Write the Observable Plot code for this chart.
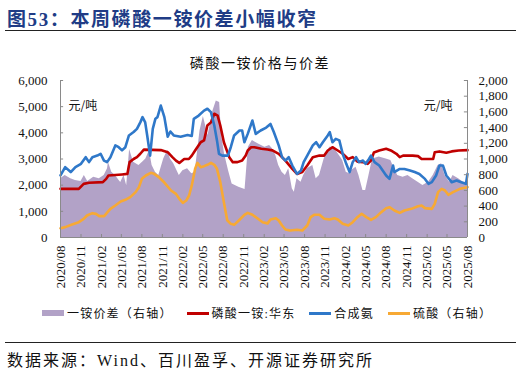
<!DOCTYPE html>
<html>
<head>
<meta charset="utf-8">
<script src="https://cdn.jsdelivr.net/npm/d3@7"></script>
<script src="https://cdn.jsdelivr.net/npm/@observablehq/plot@0.6"></script>
<style>
  body { margin: 0; background: #fff; }
  #wrap { position: relative; width: 521px; height: 374px; overflow: hidden; background: #fff; }
  .cjk { font-family: "Liberation Serif", "Noto Sans CJK SC", serif; }
  #title { position: absolute; left: 7px; top: 4px; font-size: 19px; font-weight: bold; color: #203C86; letter-spacing: 1.6px; white-space: nowrap; }
  .rule { position: absolute; left: 5px; width: 511px; height: 1.3px; background: #222; }
  #sub { position: absolute; left: 0; width: 520px; top: 52px; text-align: center; font-size: 14px; letter-spacing: 1.6px; color: #111; }
  #chart { position: absolute; left: 0; top: 70px; }
  #legend { position: absolute; left: 42px; top: 304px; display: flex; align-items: center; font-size: 12px; letter-spacing: 1.2px; color: #111; white-space: nowrap; }
  .item { display: flex; align-items: center; margin-right: 14px; }
  .sw { width: 22px; margin-right: 3px; }
  #source { position: absolute; left: 7px; top: 347px; font-size: 16px; letter-spacing: 2px; color: #111; white-space: nowrap; }
</style>
</head>
<body>
<div id="wrap">
  <div id="title" class="cjk">图53：本周磷酸一铵价差小幅收窄</div>
  <div class="rule" style="top:30px"></div>
  <div id="sub" class="cjk">磷酸一铵价格与价差</div>
  <div id="chart"></div>
  <div id="legend" class="cjk"></div>
  <div class="rule" style="top:342px"></div>
  <div id="source" class="cjk">数据来源：Wind、百川盈孚、开源证券研究所</div>
</div>
<script>
// ---------- tick labels ----------
const tickLabels = ["2020/08","2020/11","2021/02","2021/05","2021/08","2021/11","2022/02","2022/05","2022/08","2022/11","2023/02","2023/05","2023/08","2023/11","2024/02","2024/05","2024/08","2024/11","2025/02","2025/05","2025/08"];
const leftTicks = [0, 1000, 2000, 3000, 4000, 5000, 6000];
const rightTicks = [0, 200, 400, 600, 800, 1000, 1200, 1400, 1600, 1800, 2000];

// ---------- 一铵价差（右轴） ----------
const spreadDates = ["2020-08-01","2020-08-22","2020-09-16","2020-10-07","2020-11-01","2020-11-16","2020-12-01","2020-12-28","2021-01-22","2021-02-13","2021-02-28","2021-03-04","2021-03-19","2021-04-04","2021-04-28","2021-05-13","2021-05-25","2021-06-07","2021-06-25","2021-07-19","2021-08-04","2021-08-19","2021-09-04","2021-09-16","2021-10-01","2021-10-16","2021-11-07","2021-11-25","2021-12-07","2021-12-22","2022-01-16","2022-02-01","2022-02-22","2022-03-13","2022-03-28","2022-04-19","2022-05-04","2022-05-25","2022-06-16","2022-07-01","2022-07-16","2022-07-25","2022-08-07","2022-08-25","2022-09-10","2022-10-10","2022-11-07","2022-11-22","2022-12-10","2023-01-04","2023-02-04","2023-02-25","2023-03-10","2023-03-25","2023-04-07","2023-04-22","2023-05-07","2023-05-22","2023-06-07","2023-06-16","2023-06-28","2023-07-16","2023-07-28","2023-08-13","2023-09-07","2023-09-22","2023-10-07","2023-10-28","2023-11-22","2023-12-04","2023-12-19","2024-01-04","2024-01-19","2024-02-04","2024-02-19","2024-02-28","2024-03-19","2024-04-01","2024-04-19","2024-05-01","2024-05-16","2024-06-01","2024-07-01","2024-08-01","2024-08-22","2024-09-07","2024-09-22","2024-10-16","2024-11-07","2024-11-28","2024-12-22","2025-01-13","2025-02-07","2025-02-28","2025-03-22","2025-04-07","2025-04-22","2025-05-13","2025-05-28","2025-06-22","2025-07-13","2025-08-01"];
const spreadValues = [747,790,747,726,713,790,713,769,747,790,875,960,832,790,700,790,660,1120,960,917,960,1000,1108,917,832,790,1000,1110,1000,940,790,850,875,811,832,1360,1540,1300,1610,1740,1720,1300,1065,850,680,640,610,1150,1236,1193,1150,1172,1130,1045,917,832,790,875,620,577,747,705,790,875,917,747,790,1000,1150,1150,1108,1045,981,832,811,853,896,790,599,599,790,1000,1024,1000,981,875,790,769,790,747,705,662,705,790,917,938,790,705,790,747,705,705];

// ---------- 磷酸一铵:华东 ----------
const mapDates = ["2020-08-01","2020-10-22","2020-11-13","2020-12-07","2021-02-07","2021-02-22","2021-03-04","2021-05-04","2021-05-28","2021-06-07","2021-06-25","2021-07-10","2021-07-25","2021-08-10","2021-10-25","2021-11-25","2021-12-16","2022-01-01","2022-01-16","2022-02-07","2022-02-28","2022-03-13","2022-03-28","2022-04-22","2022-05-07","2022-05-22","2022-06-07","2022-06-22","2022-07-07","2022-07-19","2022-08-04","2022-08-28","2022-09-13","2022-10-04","2022-10-25","2022-11-10","2022-11-19","2022-12-04","2022-12-19","2023-01-19","2023-02-16","2023-03-10","2023-04-07","2023-05-07","2023-06-07","2023-06-28","2023-07-22","2023-08-13","2023-09-07","2023-10-07","2023-10-28","2023-11-13","2023-12-04","2023-12-28","2024-01-19","2024-02-13","2024-03-04","2024-03-25","2024-04-19","2024-05-10","2024-05-25","2024-06-07","2024-07-01","2024-08-01","2024-08-22","2024-09-16","2024-10-01","2024-10-16","2024-11-28","2024-12-22","2025-01-07","2025-02-28","2025-03-07","2025-03-28","2025-04-28","2025-05-22","2025-06-22","2025-08-01"];
const mapValues = [1860,1860,2050,2090,2115,2240,2370,2410,2430,2880,3000,3070,3200,3360,3340,3260,3070,2940,2850,3000,3000,3130,3325,3640,3710,4280,4400,4730,4660,4280,3640,3070,2880,2880,2940,3130,3325,3450,3450,3390,3360,3330,3200,2940,2620,2430,2500,2750,3070,3130,3130,3325,3450,3325,3200,3000,3070,2900,2880,2815,2940,3250,3325,3390,3325,3200,3070,3130,3130,3110,3000,3000,3260,3290,3240,3290,3325,3340];

// ---------- 合成氨 ----------
const ammoniaDates = ["2020-08-01","2020-08-22","2020-09-16","2020-10-07","2020-11-01","2020-11-22","2020-12-07","2020-12-22","2021-01-13","2021-01-28","2021-02-12","2021-02-26","2021-03-13","2021-04-04","2021-04-19","2021-05-04","2021-05-19","2021-06-04","2021-06-25","2021-07-10","2021-07-25","2021-08-04","2021-08-16","2021-08-25","2021-09-07","2021-09-19","2021-10-01","2021-10-10","2021-10-25","2021-11-10","2021-11-25","2021-12-07","2021-12-22","2022-01-22","2022-02-22","2022-03-13","2022-03-22","2022-04-13","2022-05-07","2022-05-22","2022-06-07","2022-06-22","2022-07-04","2022-07-13","2022-07-28","2022-08-22","2022-09-04","2022-09-19","2022-10-13","2022-10-25","2022-11-04","2022-11-19","2022-12-10","2022-12-25","2023-01-16","2023-02-10","2023-03-01","2023-03-16","2023-04-07","2023-04-22","2023-05-07","2023-05-22","2023-06-07","2023-06-28","2023-07-16","2023-07-28","2023-08-13","2023-09-07","2023-09-22","2023-10-07","2023-10-22","2023-11-13","2023-11-22","2023-12-04","2023-12-19","2024-01-04","2024-01-19","2024-02-04","2024-02-19","2024-03-04","2024-03-19","2024-04-01","2024-04-19","2024-05-01","2024-05-16","2024-05-25","2024-06-10","2024-07-01","2024-08-01","2024-08-16","2024-09-01","2024-09-07","2024-10-01","2024-10-22","2024-11-16","2024-12-07","2024-12-28","2025-01-22","2025-02-07","2025-02-22","2025-03-13","2025-03-28","2025-04-13","2025-04-28","2025-05-22","2025-06-13","2025-07-04","2025-07-25","2025-08-01"];
const ammoniaValues = [2370,2690,2500,2690,2815,3070,2880,3070,3130,3200,2940,2880,3070,3520,3450,3330,3450,3900,4030,4150,4400,4600,4400,3900,3130,4150,4540,4600,5040,4600,3850,4050,3900,3850,3920,3880,4535,4660,4850,4920,4790,4280,3710,3200,3130,3130,3450,3900,4090,4090,3640,3960,4470,3960,4090,4200,4340,4030,3520,3070,2940,3070,2750,2430,2560,2880,3130,3520,3640,3450,3640,3900,4030,3640,3770,3710,3200,2815,2500,2880,3070,2880,2940,2815,3000,3130,2880,2750,2370,2240,2750,2500,2620,2620,2560,2500,2430,2240,2050,2115,2370,2750,2750,2370,2115,2180,2115,2050,2430];

// ---------- 硫酸（右轴） ----------
const acidDates = ["2020-08-01","2020-08-22","2020-09-22","2020-10-22","2020-11-13","2020-11-28","2020-12-22","2021-01-07","2021-01-22","2021-02-13","2021-02-28","2021-03-13","2021-04-04","2021-04-28","2021-05-19","2021-06-10","2021-07-04","2021-07-19","2021-08-01","2021-08-19","2021-09-10","2021-09-25","2021-10-16","2021-11-10","2021-12-10","2022-01-01","2022-01-16","2022-02-01","2022-02-16","2022-03-01","2022-03-13","2022-03-28","2022-04-07","2022-04-22","2022-05-07","2022-05-22","2022-06-07","2022-06-22","2022-07-04","2022-07-19","2022-08-04","2022-08-19","2022-09-04","2022-09-19","2022-10-10","2022-11-04","2022-11-19","2022-12-10","2023-01-04","2023-01-25","2023-02-16","2023-03-01","2023-03-25","2023-04-07","2023-04-22","2023-05-07","2023-05-28","2023-06-28","2023-07-22","2023-08-13","2023-08-28","2023-09-13","2023-10-07","2023-10-28","2023-11-22","2023-12-13","2023-12-28","2024-01-19","2024-02-13","2024-03-04","2024-03-25","2024-04-13","2024-05-04","2024-05-25","2024-06-16","2024-07-10","2024-08-01","2024-08-16","2024-09-07","2024-10-01","2024-10-22","2024-11-22","2024-12-22","2025-01-07","2025-01-22","2025-02-22","2025-03-07","2025-03-22","2025-04-07","2025-04-22","2025-05-07","2025-05-28","2025-06-28","2025-08-01"];
const acidValues = [119,132,166,195,238,280,310,301,272,272,323,365,408,459,480,514,578,641,747,790,824,811,769,700,599,556,493,442,471,535,663,875,951,896,909,926,951,926,875,705,450,220,174,161,217,289,314,289,238,195,180,229,246,217,153,102,89,98,89,153,259,289,289,238,229,246,229,174,153,195,259,302,259,225,259,323,374,386,344,314,344,365,399,408,374,365,429,578,620,599,544,578,620,641];

// ---------- build tables ----------
const parse = s => new Date(s + "T00:00:00Z");
const rows = (ds, vs) => ds.map((d, i) => ({date: parse(d), v: vs[i]}));
const spread = rows(spreadDates, spreadValues);
const mapSeries = rows(mapDates, mapValues);
const ammonia = rows(ammoniaDates, ammoniaValues);
const acid = rows(acidDates, acidValues);
const tickDates = tickLabels.map(s => parse(s.replace("/", "-") + "-01"));
const x0 = tickDates[0], x1 = tickDates[tickDates.length - 1];
const RATIO = 3; // left axis 6000 <-> right axis 2000

const colors = {spread: "#B2A2C7", map: "#C00000", ammonia: "#2F78C9", acid: "#F7A934"};
const axisColor = "#8a8a8a";
const dayMs = 86400000;

const chart = Plot.plot({
  width: 521,
  height: 235,
  marginTop: 10,
  marginBottom: 68,
  marginLeft: 60,
  marginRight: 54,
  x: {type: "utc", domain: [x0, x1]},
  y: {domain: [0, 6000]},
  style: {fontFamily: "Liberation Serif, serif", fontSize: "13px", color: "#111", background: "transparent", overflow: "visible"},
  marks: [
    Plot.areaY(spread, {x: "date", y: d => d.v * RATIO, fill: colors.spread}),
    Plot.lineY(acid, {x: "date", y: d => d.v * RATIO, stroke: colors.acid, strokeWidth: 2.6}),
    Plot.lineY(mapSeries, {x: "date", y: "v", stroke: colors.map, strokeWidth: 2.6}),
    Plot.lineY(ammonia, {x: "date", y: "v", stroke: colors.ammonia, strokeWidth: 2.6}),
    Plot.ruleY([0], {stroke: axisColor}),
    Plot.ruleX([x0, x1], {stroke: axisColor}),
    Plot.ruleY(leftTicks, {y: d => d, x1: x0, x2: new Date(+x0 + 14 * dayMs), stroke: axisColor}),
    Plot.ruleY(rightTicks, {y: d => d * RATIO, x1: new Date(+x1 - 14 * dayMs), x2: x1, stroke: axisColor}),
    Plot.ruleX(tickDates, {x: d => d, y1: 0, y2: 115, stroke: axisColor}),
    Plot.axisY({anchor: "left", ticks: leftTicks, tickFormat: d3.format(","), tickSize: 0, tickPadding: 13, label: null, fontSize: 13}),
    Plot.axisY({anchor: "right", ticks: rightTicks.map(v => v * RATIO), tickFormat: d => d3.format(",")(Math.round(d / RATIO)), tickSize: 0, tickPadding: 11, label: null, fontSize: 13}),
    Plot.axisX({ticks: tickDates, tickFormat: d3.utcFormat("%Y/%m"), tickRotate: -90, tickSize: 0, tickPadding: 8, label: null, fontSize: 13, style: {letterSpacing: "1.3px"}}),
    Plot.text(["元/吨"], {frameAnchor: "top-left", dx: 8, dy: 21, textAnchor: "start", fontSize: 12, fontFamily: "Noto Sans CJK SC"}),
    Plot.text(["元/吨"], {frameAnchor: "top-right", dx: -15, dy: 21, textAnchor: "end", fontSize: 12, fontFamily: "Noto Sans CJK SC"})
  ]
});
document.getElementById("chart").appendChild(chart);

// ---------- legend ----------
const legendItems = [
  {label: "一铵价差（右轴）", color: colors.spread, kind: "box"},
  {label: "磷酸一铵:华东", color: colors.map, kind: "line"},
  {label: "合成氨", color: colors.ammonia, kind: "line"},
  {label: "硫酸（右轴）", color: colors.acid, kind: "line"}
];
const legend = document.getElementById("legend");
for (const it of legendItems) {
  const item = document.createElement("div");
  item.className = "item";
  const sw = document.createElement("span");
  sw.className = "sw";
  sw.style.background = it.color;
  sw.style.height = it.kind === "box" ? "6px" : "3px";
  const tx = document.createElement("span");
  tx.textContent = it.label;
  item.appendChild(sw);
  item.appendChild(tx);
  legend.appendChild(item);
}
</script>
</body>
</html>
